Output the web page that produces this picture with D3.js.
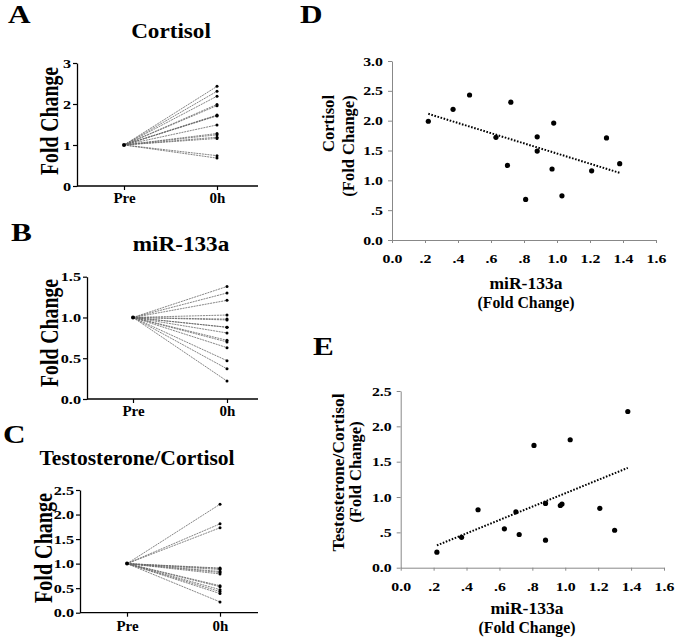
<!DOCTYPE html>
<html><head><meta charset="utf-8">
<script src="https://cdn.jsdelivr.net/npm/d3@7"></script>
<style>
body{margin:0;background:#fff}
svg{display:block}
text{font-family:"Liberation Serif","Times New Roman",serif;font-weight:bold;fill:#000}
</style>
</head><body>
<svg id="c" width="675" height="639"></svg>
<script>
// ---------- data ----------
const timepoints = ["Pre", "0h"];
const preFold = 1.0;
const mir133a    = [0.22, 0.37, 0.47, 0.63, 0.70, 0.72, 0.81, 0.88, 0.88, 0.97, 0.98, 1.03, 1.21, 1.30, 1.38];
const cortisol   = [1.99, 2.19, 2.43, 1.72, 1.25, 2.31, 0.68, 1.73, 1.49, 1.19, 1.96, 0.74, 1.16, 1.71, 1.28];
const testoCort  = [0.22, 0.43, 0.82, 0.55, 0.79, 0.47, 1.73, 0.91, 0.39, 0.88, 0.90, 1.81, 0.84, 0.53, 2.21];
const yTicksA = [0, 1, 2, 3];
const yTicksB = [0, 0.5, 1.0, 1.5];
const yTicksC = [0, 0.5, 1.0, 1.5, 2.0, 2.5];
const yTicksD = [0, 0.5, 1.0, 1.5, 2.0, 2.5, 3.0];
const yTicksE = [0, 0.5, 1.0, 1.5, 2.0, 2.5];
const xTicksDE = [0, 0.2, 0.4, 0.6, 0.8, 1.0, 1.2, 1.4, 1.6];

// ---------- helpers ----------
const svg = d3.select("#c");

function label(g, str, x, y, o) {
  const sx = o.sx || 1;
  const tr = `translate(${x},${y})` + (o.rot ? ` rotate(-90) scale(1,${sx})` : ` scale(${sx},1)`);
  const t = g.append("text").attr("transform", tr)
    .attr("font-size", o.size).attr("text-anchor", o.anchor || "middle").text(str);
  if (o.len) t.attr("textLength", o.len).attr("lengthAdjust", "spacingAndGlyphs");
  return t;
}
function stretchTicks(ax, sx) {
  ax.selectAll(".tick text").each(function () {
    const s = d3.select(this);
    const x = +s.attr("x") || 0;
    s.attr("transform", `scale(${sx},1)`).attr("x", x / sx);
  });
}
const fmtDE = v => v === 0 ? "0.0" : (v < 1 ? d3.format(".1f")(v).replace(/^0/, "") : d3.format(".1f")(v));

// ---------- paired (Pre -> 0h) panels ----------
function pairedPanel(cfg) {
  const g = svg.append("g");
  const y = d3.scaleLinear().domain(cfg.yDomain).range([cfg.yBottom, cfg.yTop]);
  const x = d3.scalePoint().domain(timepoints).range([cfg.xPre, cfg.x0h]);

  const ay = g.append("g").attr("transform", `translate(${cfg.x0},0)`)
    .call(d3.axisLeft(y).tickValues(cfg.yTicks).tickFormat(cfg.fmt).tickSize(4).tickPadding(2).tickSizeOuter(0));
  ay.select(".domain").attr("stroke", "#000").attr("stroke-width", 1.3);
  ay.selectAll(".tick line").attr("stroke", "#000").attr("stroke-width", 1.2);
  ay.selectAll(".tick text").attr("font-size", 12.5).attr("font-family", null).attr("fill", "#000");
  stretchTicks(ay, 1.3);

  const ax = g.append("g").attr("transform", `translate(0,${cfg.yBottom})`)
    .call(d3.axisBottom(x).tickSize(4).tickPadding(4).tickSizeOuter(0));
  ax.select(".domain").remove();
  ax.selectAll(".tick line").attr("stroke", "#000").attr("stroke-width", 1.2);
  ax.selectAll(".tick text").attr("font-size", 14).attr("font-family", null).attr("fill", "#000")
    .attr("y", cfg.xLabY - cfg.yBottom).attr("dy", 0);
  stretchTicks(ax, 1.07);
  g.append("line").attr("x1", cfg.x0).attr("x2", cfg.xEnd).attr("y1", cfg.yBottom).attr("y2", cfg.yBottom)
    .attr("stroke", "#000").attr("stroke-width", 1.3);

  const lines = g.append("g");
  cfg.values.forEach(v => {
    lines.append("line")
      .attr("x1", x("Pre")).attr("y1", y(preFold)).attr("x2", x("0h")).attr("y2", y(v))
      .attr("stroke", "#666").attr("stroke-width", 0.8).attr("stroke-dasharray", "2,0.8");
  });
  g.append("g").selectAll("circle").data(cfg.values).join("circle")
    .attr("cx", x("0h")).attr("cy", d => y(d)).attr("r", 1.5).attr("fill", "#000");
  g.append("circle").attr("cx", x("Pre")).attr("cy", y(preFold)).attr("r", 2).attr("fill", "#000");

  label(g, cfg.letter, cfg.letterX, cfg.letterY, {size: 25, sx: 1.25, anchor: "start"});
  label(g, cfg.title, cfg.titleX, cfg.titleY, {size: cfg.titleSize || 20.5, sx: cfg.titleSx || 1.13});
  label(g, "Fold Change", cfg.ylabX, cfg.ylabY, {size: 22, sx: 1.12, rot: true, len: cfg.ylabLen});
}

pairedPanel({letter: "A", letterX: 8, letterY: 23, title: "Cortisol", titleX: 171, titleY: 38,
  x0: 77, xEnd: 258, xPre: 124, x0h: 217, yBottom: 186, yTop: 63, yDomain: [0, 3], yTicks: yTicksA,
  fmt: d3.format("d"), xLabY: 203, values: cortisol, ylabX: 58, ylabY: 121, ylabLen: 108});

pairedPanel({letter: "B", letterX: 11, letterY: 241, title: "miR-133a", titleX: 181, titleY: 251,
  x0: 87, xEnd: 258, xPre: 133, x0h: 227, yBottom: 399, yTop: 276.7, yDomain: [0, 1.5], yTicks: yTicksB,
  fmt: d3.format(".1f"), xLabY: 416, values: mir133a, ylabX: 58, ylabY: 333, ylabLen: 108});

pairedPanel({letter: "C", letterX: 3, letterY: 443, title: "Testosterone/Cortisol", titleX: 137, titleY: 465,
  titleSize: 22, titleSx: 0.98,
  x0: 80, xEnd: 258, xPre: 127, x0h: 220, yBottom: 612.7, yTop: 490, yDomain: [0, 2.5], yTicks: yTicksC,
  fmt: d3.format(".1f"), xLabY: 631.5, values: testoCort, ylabX: 52, ylabY: 548, ylabLen: 110});

// ---------- scatter panels ----------
function scatterPanel(cfg) {
  const g = svg.append("g");
  const x = d3.scaleLinear().domain([0, 1.6]).range([cfg.x0, cfg.x1]);
  const y = d3.scaleLinear().domain(cfg.yDomain).range([cfg.y0, cfg.y1]);

  const ay = g.append("g").attr("transform", `translate(${cfg.x0},0)`)
    .call(d3.axisLeft(y).tickValues(cfg.yTicks).tickFormat(fmtDE).tickSize(4).tickPadding(5).tickSizeOuter(0));
  const ax = g.append("g").attr("transform", `translate(0,${cfg.y0})`)
    .call(d3.axisBottom(x).tickValues(xTicksDE).tickFormat(fmtDE).tickSize(3).tickPadding(4).tickSizeOuter(0));
  [ay, ax].forEach(a => {
    a.select(".domain").attr("stroke", "#888").attr("stroke-width", 1);
    a.selectAll(".tick line").attr("stroke", "#888");
    a.selectAll(".tick text").attr("font-size", 11.5).attr("font-family", null).attr("fill", "#000");
    stretchTicks(a, 1.38);
  });
  ay.selectAll(".tick text").attr("dy", "0.36em");
  ax.selectAll(".tick text").attr("y", cfg.xTickY - cfg.y0).attr("dy", 0);

  // least-squares trend line over the observed x range
  const mx = d3.mean(mir133a), my = d3.mean(cfg.values);
  const sxy = d3.sum(mir133a, (d, i) => (d - mx) * (cfg.values[i] - my));
  const sxx = d3.sum(mir133a, d => (d - mx) * (d - mx));
  const b = sxy / sxx, a0 = my - b * mx;
  const [xmin, xmax] = d3.extent(mir133a);
  g.append("line").attr("x1", x(xmin)).attr("y1", y(a0 + b * xmin)).attr("x2", x(xmax)).attr("y2", y(a0 + b * xmax))
    .attr("stroke", "#000").attr("stroke-width", 2).attr("stroke-dasharray", "1.6,1.6");

  g.append("g").selectAll("circle").data(mir133a).join("circle")
    .attr("cx", d => x(d)).attr("cy", (d, i) => y(cfg.values[i])).attr("r", 2.6).attr("fill", "#000");

  label(g, cfg.letter, cfg.letterX, cfg.letterY, {size: 26, sx: 1.2, anchor: "start"});
  label(g, cfg.ytitle1, cfg.yt1X, cfg.yt1Y, {size: 16.5, rot: true, len: cfg.yt1Len});
  label(g, "(Fold Change)", cfg.yt2X, cfg.yt2Y, {size: 16.5, rot: true});
  label(g, "miR-133a", cfg.xtX, cfg.xt1Y, {size: 16, len: 73});
  label(g, "(Fold Change)", cfg.xtX, cfg.xt2Y, {size: 16, len: 97});
}

scatterPanel({letter: "D", letterX: 300, letterY: 23, x0: 392, x1: 656, y0: 240, y1: 61,
  yDomain: [0, 3], yTicks: yTicksD, values: cortisol, xTickY: 263,
  ytitle1: "Cortisol", yt1X: 334, yt1Y: 123.5, yt1Len: 57, yt2X: 354, yt2Y: 146,
  xtX: 526, xt1Y: 289, xt2Y: 308});

scatterPanel({letter: "E", letterX: 313, letterY: 355, x0: 400.7, x1: 664, y0: 567.7, y1: 391,
  yDomain: [0, 2.5], yTicks: yTicksE, values: testoCort, xTickY: 591,
  ytitle1: "Testosterone/Cortisol", yt1X: 344, yt1Y: 472.5, yt1Len: 158, yt2X: 361, yt2Y: 472,
  xtX: 527, xt1Y: 614, xt2Y: 633});
</script>
</body></html>
